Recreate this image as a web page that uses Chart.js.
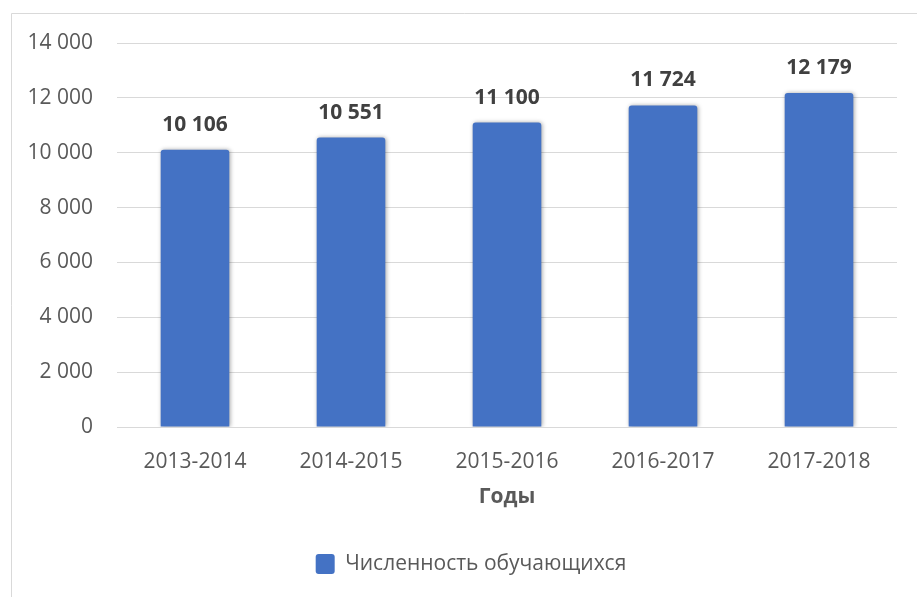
<!DOCTYPE html>
<html lang="ru">
<head>
<meta charset="utf-8">
<title>Численность обучающихся</title>
<script src="https://cdn.jsdelivr.net/npm/chart.js@4"></script>
<style>
  html, body { margin: 0; padding: 0; background: #fff; }
  #wrap { position: relative; width: 917px; height: 597px; }
</style>
</head>
<body>
<div id="wrap"><canvas id="studentsChart" width="917" height="597"></canvas></div>
<script>
// ─── ДАННЫЕ ────────────────────────────────────────────────────────────────
const years    = ['2013-2014', '2014-2015', '2015-2016', '2016-2017', '2017-2018'];
const students = [10106, 10551, 11100, 11724, 12179];
const seriesName = 'Численность обучающихся';
const axisTitle  = 'Годы';
const yTicks     = [0, 2000, 4000, 6000, 8000, 10000, 12000, 14000];

const FONT = "'Open Sans', 'Noto Sans', sans-serif";

function fmt(v) {
  return String(v).replace(/\B(?=(\d{3})+(?!\d))/g, ' ');
}

// рамка области диаграммы
const framePlugin = {
  id: 'frame',
  beforeDraw(chart) {
    const { ctx, width, height } = chart;
    ctx.save();
    ctx.fillStyle = '#fff';
    ctx.fillRect(0, 0, width, height);
    ctx.strokeStyle = '#d9d9d9';
    ctx.lineWidth = 1;
    ctx.beginPath();
    ctx.moveTo(11.5, height);
    ctx.lineTo(11.5, 13.5);
    ctx.lineTo(width, 13.5);
    ctx.stroke();
    ctx.restore();
  }
};

// тень столбцов + подписи значений
const barLabels = {
  id: 'barLabels',
  beforeDatasetDraw(chart) {
    const ctx = chart.ctx;
    ctx.save();
    ctx.shadowColor = 'rgba(0,0,0,0.35)';
    ctx.shadowBlur = 4;
    ctx.shadowOffsetX = 1;
    ctx.shadowOffsetY = 0;
  },
  afterDatasetDraw(chart) {
    chart.ctx.restore();
  },
  afterDatasetsDraw(chart) {
    const ctx = chart.ctx;
    const meta = chart.getDatasetMeta(0);
    ctx.save();
    ctx.font = `bold 21px ${FONT}`;
    ctx.fillStyle = '#404040';
    ctx.textAlign = 'center';
    ctx.textBaseline = 'middle';
    meta.data.forEach((bar, i) => {
      ctx.fillText(fmt(students[i]), bar.x, bar.y - 25);
    });
    ctx.restore();
  }
};

new Chart(document.getElementById('studentsChart').getContext('2d'), {
  type: 'bar',
  data: {
    labels: years,
    datasets: [{
      label: seriesName,
      data: students,
      backgroundColor: '#4472C4',
      borderRadius: 3,
      categoryPercentage: 1,
      barPercentage: 0.44,
      yAxisID: 'y'
    }]
  },
  options: {
    responsive: false,
    animation: false,
    events: [],
    layout: { padding: { top: 43, left: 25, right: 0, bottom: 12.5 } },
    plugins: {
      legend: {
        position: 'bottom',
        labels: {
          boxWidth: 19,
          boxHeight: 20,
          padding: 10,
          useBorderRadius: true,
          borderRadius: 3,
          color: '#595959',
          font: { family: FONT, size: 21 }
        }
      },
      tooltip: { enabled: false }
    },
    scales: {
      x: {
        grid: { display: false },
        border: { display: false },
        ticks: { color: '#595959', padding: 14, font: { family: FONT, size: 21 } },
        title: {
          display: true,
          text: axisTitle,
          color: '#595959',
          padding: { top: 0, bottom: 34 },
          font: { family: FONT, size: 21, weight: 'bold' }
        },
        afterFit: s => { s.height = 116.5; }
      },
      y: {
        min: 0,
        max: yTicks[yTicks.length - 1],
        afterBuildTicks: s => { s.ticks = yTicks.map(v => ({ value: v })); },
        grid: { color: '#d9d9d9', lineWidth: 1, drawTicks: false },
        border: { display: false },
        ticks: {
          color: '#595959',
          padding: 24,
          font: { family: FONT, size: 21 },
          callback: v => fmt(v)
        },
        afterFit: s => { s.width = 92; }
      },
      yRight: {
        position: 'right',
        display: true,
        grid: { display: false },
        border: { display: false },
        ticks: { display: false },
        afterFit: s => { s.width = 20; }
      }
    }
  },
  plugins: [framePlugin, barLabels]
});
</script>
</body>
</html>
